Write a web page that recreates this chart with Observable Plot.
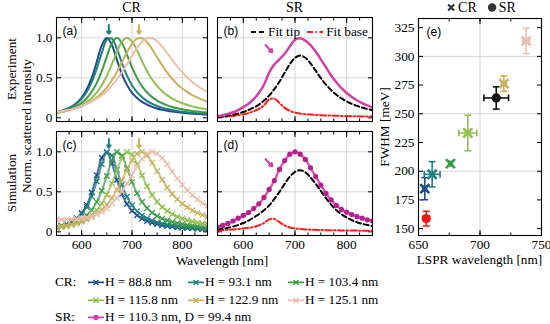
<!DOCTYPE html>
<html><head><meta charset="utf-8">
<script src="https://cdn.jsdelivr.net/npm/d3@7"></script>
<script src="https://cdn.jsdelivr.net/npm/@observablehq/plot@0.6"></script>
<style>
body{margin:0;background:#fff}
#root{position:relative;width:550px;height:324px;font-family:"Liberation Serif","Times New Roman",serif;color:#000;overflow:hidden;background:#fff}
.pl{position:absolute;line-height:0}
.pl svg{overflow:visible;display:block}
.t{position:absolute;white-space:nowrap;font-size:13.3px;line-height:1}
.rot{transform:translate(-50%,-50%) rotate(-90deg)}
.ctr{transform:translate(-50%,-50%)}
.vc{transform:translateY(-50%)}
.lg{position:absolute;white-space:nowrap;font-size:13.2px;line-height:1;transform:translateY(-50%);display:flex;align-items:center}
</style></head><body><div id="root"></div>
<script>
// ---------- data ----------
const wl = [550,560,570,580,590,600,610,620,630,640,650,660,670,680,690,700,710,720,730,740,750,760,770,780,790,800,810,820,830,840,850];

const crNames = ["H = 88.8 nm","H = 93.1 nm","H = 103.4 nm","H = 115.8 nm","H = 122.9 nm","H = 125.1 nm"];
const crColors = ["#1f4b8e","#1f7f7e","#3d9b48","#8fc050","#c8b25e","#ebbfad"];

const expH888  = [0.066,0.083,0.107,0.139,0.185,0.253,0.354,0.502,0.700,0.906,1.000,0.911,0.725,0.547,0.412,0.315,0.248,0.199,0.164,0.137,0.117,0.101,0.088,0.078,0.070,0.063,0.057,0.052,0.048,0.044,0.041];
const expH931  = [0.068,0.085,0.107,0.137,0.178,0.238,0.323,0.446,0.615,0.812,0.975,0.990,0.861,0.685,0.528,0.407,0.320,0.256,0.209,0.174,0.147,0.127,0.110,0.097,0.086,0.077,0.070,0.064,0.058,0.054,0.050];
const expH1034 = [0.062,0.075,0.092,0.115,0.145,0.187,0.244,0.325,0.437,0.587,0.767,0.932,1.000,0.935,0.789,0.630,0.497,0.393,0.316,0.259,0.216,0.182,0.156,0.136,0.119,0.106,0.095,0.085,0.078,0.071,0.065];
const expH1158 = [0.061,0.072,0.087,0.105,0.128,0.157,0.196,0.248,0.317,0.408,0.526,0.671,0.825,0.951,1.000,0.953,0.841,0.708,0.583,0.479,0.396,0.331,0.280,0.240,0.208,0.182,0.161,0.143,0.129,0.116,0.106];
const expH1229 = [0.065,0.076,0.088,0.104,0.122,0.145,0.174,0.209,0.254,0.310,0.381,0.469,0.574,0.694,0.817,0.924,0.989,0.995,0.945,0.858,0.755,0.655,0.564,0.486,0.420,0.366,0.321,0.283,0.252,0.226,0.203];
const expH1251 = [0.071,0.081,0.094,0.108,0.125,0.146,0.171,0.201,0.238,0.282,0.336,0.402,0.479,0.570,0.671,0.776,0.875,0.952,0.995,0.995,0.956,0.889,0.807,0.722,0.641,0.568,0.503,0.446,0.398,0.357,0.321];

const simH888  = [0.058,0.074,0.095,0.125,0.170,0.236,0.337,0.492,0.707,0.926,0.995,0.856,0.647,0.471,0.348,0.264,0.206,0.165,0.135,0.113,0.096,0.083,0.073,0.065,0.058,0.052,0.047,0.043,0.039,0.036,0.034];
const simH931  = [0.060,0.075,0.096,0.124,0.165,0.224,0.311,0.443,0.628,0.845,0.990,0.952,0.777,0.588,0.439,0.332,0.259,0.206,0.168,0.140,0.118,0.102,0.089,0.078,0.069,0.062,0.056,0.051,0.047,0.043,0.040];
const simH1034 = [0.051,0.062,0.076,0.095,0.121,0.155,0.204,0.274,0.374,0.514,0.698,0.890,0.997,0.950,0.796,0.624,0.481,0.374,0.296,0.239,0.197,0.165,0.141,0.122,0.106,0.094,0.084,0.075,0.068,0.062,0.057];
const simH1158 = [0.051,0.061,0.073,0.088,0.108,0.133,0.166,0.211,0.271,0.353,0.463,0.606,0.770,0.921,0.998,0.965,0.849,0.704,0.570,0.461,0.376,0.310,0.260,0.221,0.189,0.165,0.145,0.129,0.115,0.104,0.094];
const simH1229 = [0.057,0.066,0.078,0.091,0.107,0.128,0.153,0.185,0.225,0.276,0.341,0.423,0.525,0.645,0.775,0.895,0.978,0.999,0.954,0.865,0.757,0.650,0.554,0.473,0.406,0.350,0.305,0.268,0.237,0.212,0.190];
const simH1251 = [0.150,0.150,0.150,0.155,0.160,0.170,0.180,0.196,0.218,0.247,0.295,0.353,0.423,0.508,0.604,0.711,0.818,0.912,0.977,1.000,0.978,0.921,0.841,0.753,0.667,0.588,0.518,0.457,0.405,0.361,0.324];

const srColor = "#d23fa6", srDotColor = "#b51f8e";
const expSR   = [0.020,0.032,0.048,0.070,0.097,0.133,0.176,0.234,0.310,0.413,0.566,0.668,0.730,0.800,0.892,0.975,0.995,0.965,0.910,0.830,0.730,0.630,0.530,0.445,0.370,0.310,0.260,0.220,0.185,0.155,0.130];
const expTip  = [0.008,0.016,0.026,0.039,0.054,0.073,0.097,0.127,0.165,0.215,0.278,0.358,0.454,0.563,0.670,0.750,0.780,0.751,0.680,0.589,0.497,0.415,0.346,0.289,0.242,0.205,0.174,0.149,0.128,0.110,0.095];
const expBase = [0.010,0.013,0.017,0.023,0.032,0.045,0.060,0.082,0.112,0.155,0.232,0.238,0.185,0.125,0.088,0.066,0.054,0.046,0.040,0.036,0.033,0.030,0.028,0.026,0.024,0.022,0.020,0.019,0.018,0.017,0.016];
const simSR   = [0.060,0.080,0.105,0.135,0.170,0.205,0.240,0.290,0.350,0.430,0.530,0.640,0.780,0.890,0.970,1.000,0.970,0.905,0.800,0.690,0.585,0.480,0.400,0.330,0.280,0.245,0.215,0.190,0.170,0.150,0.135];
const simTip  = [0.030,0.040,0.050,0.065,0.085,0.110,0.140,0.180,0.220,0.270,0.330,0.410,0.500,0.600,0.690,0.750,0.770,0.745,0.680,0.600,0.510,0.420,0.340,0.270,0.220,0.180,0.145,0.120,0.100,0.085,0.070];
const simBase = [0.020,0.022,0.025,0.030,0.035,0.042,0.050,0.060,0.080,0.110,0.155,0.160,0.120,0.080,0.055,0.042,0.035,0.030,0.027,0.025,0.023,0.021,0.020,0.019,0.018,0.017,0.016,0.015,0.014,0.013,0.012];

// arrows (wavelength, from y, to y)
const crArrowX = [654, 714];
const crArrowColors = ["#1f7f7e", "#c8b25e"];
const crArrowY = [1.16, 1.05];
const srArrow = {x1: 643, y1: 0.91, x2: 656, y2: 0.82};

// panel (e)
const crLspr     = [655.1, 661.1, 676.0, 690.1, 719.4, 737.5];
const crLsprErr  = [1.5, 6.4, 1.5, 7.3, 2.0, 2.7];
const crFwhm     = [184.8, 197.3, 206.6, 233.3, 276.3, 313.4];
const crFwhmErr  = [9.6, 11.0, 1.8, 15.5, 6.8, 11.0];
const srLspr     = [713.2, 656.3];
const srLsprErr  = [10.0, 2.5];
const srFwhm     = [263.8, 158.7];
const srFwhmErr  = [9.7, 6.4];
const srPtColors = ["#111111", "#f01818"];

// ticks
const specXMajor = [600, 700, 800];
const specXMinor = [550,575,600,625,650,675,700,725,750,775,800,825,850];
const specYMajor = [0, 0.5, 1.0];
const specYGrid = [0.5, 1.0];
const eXMajor = [650, 700, 750];
const eXMinor = [650, 675, 700, 725, 750];
const eYMajor = [150, 175, 200, 225, 250, 275, 300, 325];
const eYGrid = [200, 250, 300];

// ---------- build ----------
const root = document.getElementById("root");
const SERIF = "'Liberation Serif', 'Times New Roman', serif", SANS = "'Liberation Sans', Arial, sans-serif";
const specXDomain = [550, 850], specYDomain = [-0.046, 1.254];

function place(el, left, top) {
  const d = document.createElement("div");
  d.className = "pl"; d.style.left = left + "px"; d.style.top = top + "px";
  d.appendChild(el); root.appendChild(d);
}
function text(str, x, y, cls, extra) {
  const d = document.createElement("div");
  d.className = "t " + (cls || ""); d.style.left = x + "px"; d.style.top = y + "px";
  if (extra) Object.assign(d.style, extra);
  d.innerHTML = str; root.appendChild(d); return d;
}
const toRows = (ys) => wl.map((w, i) => ({w, v: ys[i]}));

function frameMarks({xMajor, xMinor, yMajor, yMinor, xGrid, yGrid, xLab, yLab, yFmt}) {
  const m = [
    Plot.gridX(xGrid, {stroke: "#d6d6d6", strokeOpacity: 1, strokeWidth: 1}),
    Plot.gridY(yGrid, {stroke: "#d6d6d6", strokeOpacity: 1, strokeWidth: 1})
  ];
  const blank = () => "";
  for (const a of ["bottom", "top"]) {
    m.push(Plot.axisX(xMinor, {anchor: a, tickSize: -2.5, tickFormat: blank, label: null, strokeWidth: 1}));
    m.push(Plot.axisX(xMajor, {anchor: a, tickSize: -5, tickFormat: blank, label: null, strokeWidth: 1}));
  }
  for (const a of ["left", "right"]) {
    if (yMinor) m.push(Plot.axisY(yMinor, {anchor: a, tickSize: -2.5, tickFormat: blank, label: null, strokeWidth: 1}));
    m.push(Plot.axisY(yMajor, {anchor: a, tickSize: -5, tickFormat: blank, label: null, strokeWidth: 1}));
  }
  if (xLab) m.push(Plot.axisX(xMajor, {anchor: "bottom", tickSize: 0, tickPadding: 4, label: null, fontSize: 13.3, fontFamily: SERIF}));
  if (yLab) m.push(Plot.axisY(yMajor, {anchor: "left", tickSize: 0, tickPadding: 4, label: null, fontSize: 13.3, fontFamily: SERIF, tickFormat: yFmt}));
  return m;
}

function specPanel({width, height, marks, label, xLab, yLab}) {
  return Plot.plot({
    width, height, margin: 0,
    style: {overflow: "visible", fontFamily: SERIF, fontSize: "13.3px", background: "transparent"},
    x: {domain: specXDomain, label: null},
    y: {domain: specYDomain, label: null},
    marks: [
      ...frameMarks({xMajor: specXMajor, xMinor: specXMinor, yMajor: specYMajor, xGrid: specXMajor, yGrid: specYGrid,
        xLab, yLab, yFmt: d => d === 0 ? "0" : d.toFixed(1)}),
      ...marks,
      Plot.frame({stroke: "#000", strokeWidth: 1.1}),
      Plot.text([label], {frameAnchor: "top-left", dx: 6, dy: 9, fontFamily: SANS, fontSize: 12})
    ]
  });
}

const expSeries = [expH888, expH931, expH1034, expH1158, expH1229, expH1251];
const simSeries = [simH888, simH931, simH1034, simH1158, simH1229, simH1251];

function crArrows() {
  return crArrowX.map((x, i) => Plot.arrow([{x, y1: crArrowY[0], y2: crArrowY[1]}],
    {x1: "x", x2: "x", y1: "y1", y2: "y2", stroke: crArrowColors[i], strokeWidth: 2, headLength: 5, headAngle: 70}));
}

// (a)
const aMarks = [];
expSeries.forEach((s, i) => aMarks.push(Plot.line(toRows(s), {x: "w", y: "v", stroke: crColors[i], strokeWidth: 2, curve: "catmull-rom", clip: true})));
aMarks.push(...crArrows());
place(specPanel({width: 151, height: 104, marks: aMarks, label: "(a)", xLab: false, yLab: true}), 56, 17);

// (c)
const cMarks = [];
simSeries.forEach((s, i) => {
  cMarks.push(Plot.line(toRows(s), {x: "w", y: "v", stroke: crColors[i], strokeWidth: 2, strokeOpacity: 0.75, curve: "catmull-rom", clip: true}));
  cMarks.push(Plot.dot(toRows(s), {x: "w", y: "v", stroke: crColors[i], symbol: "times", r: 2.6, strokeWidth: 1.3, clip: true}));
});
cMarks.push(...crArrows());
place(specPanel({width: 151, height: 104, marks: cMarks, label: "(c)", xLab: true, yLab: true}), 56, 131);

function srArrowMark() {
  return Plot.arrow([srArrow], {x1: "x1", y1: "y1", x2: "x2", y2: "y2", stroke: srColor, strokeWidth: 2, headLength: 5, headAngle: 70});
}
// (b)
const bMarks = [
  Plot.line(toRows(expBase), {x: "w", y: "v", stroke: "#ff1a1a", strokeWidth: 2, strokeDasharray: "6,2.5,1.5,2.5", curve: "catmull-rom", clip: true}),
  Plot.line(toRows(expTip), {x: "w", y: "v", stroke: "#000", strokeWidth: 2, strokeDasharray: "5,3", curve: "catmull-rom", clip: true}),
  Plot.line(toRows(expSR), {x: "w", y: "v", stroke: srColor, strokeWidth: 2.5, curve: "catmull-rom", clip: true}),
  srArrowMark()
];
place(specPanel({width: 155, height: 104, marks: bMarks, label: "(b)", xLab: false, yLab: false}), 217, 17);

// (d)
const dMarks = [
  Plot.line(toRows(simBase), {x: "w", y: "v", stroke: "#ff1a1a", strokeWidth: 2, strokeDasharray: "6,2.5,1.5,2.5", curve: "catmull-rom", clip: true}),
  Plot.line(toRows(simTip), {x: "w", y: "v", stroke: "#000", strokeWidth: 2, strokeDasharray: "5,3", curve: "catmull-rom", clip: true}),
  Plot.line(toRows(simSR), {x: "w", y: "v", stroke: srColor, strokeWidth: 2.5, strokeOpacity: 0.85, curve: "catmull-rom", clip: true}),
  Plot.dot(toRows(simSR), {x: "w", y: "v", fill: srDotColor, r: 2.6, clip: true}),
  srArrowMark()
];
place(specPanel({width: 155, height: 104, marks: dMarks, label: "(d)", xLab: true, yLab: false}), 217, 131);

// (e)
const hcap = {draw(ctx, size) { const r = Math.sqrt(size / Math.PI); ctx.moveTo(-r, 0); ctx.lineTo(r, 0); }};
const vcap = {draw(ctx, size) { const r = Math.sqrt(size / Math.PI); ctx.moveTo(0, -r); ctx.lineTo(0, r); }};
const crPts = crLspr.map((x, i) => ({x, xe: crLsprErr[i], y: crFwhm[i], ye: crFwhmErr[i], c: crColors[i]}));
const srPts = srLspr.map((x, i) => ({x, xe: srLsprErr[i], y: srFwhm[i], ye: srFwhmErr[i], c: srPtColors[i]}));
function errMarks(pts) {
  const o = {stroke: "c", strokeWidth: 1.6};
  return [
    Plot.link(pts, {x1: d => d.x - d.xe, x2: d => d.x + d.xe, y1: "y", y2: "y", ...o}),
    Plot.link(pts, {x1: "x", x2: "x", y1: d => d.y - d.ye, y2: d => d.y + d.ye, ...o}),
    Plot.dot(pts, {x: "x", y: d => d.y - d.ye, symbol: hcap, r: 3.4, ...o}),
    Plot.dot(pts, {x: "x", y: d => d.y + d.ye, symbol: hcap, r: 3.4, ...o}),
    Plot.dot(pts, {x: d => d.x - d.xe, y: "y", symbol: vcap, r: 3.4, ...o}),
    Plot.dot(pts, {x: d => d.x + d.xe, y: "y", symbol: vcap, r: 3.4, ...o})
  ];
}
const ePlot = Plot.plot({
  width: 123, height: 217, margin: 0,
  style: {overflow: "visible", fontFamily: SERIF, fontSize: "13.3px", background: "transparent"},
  x: {domain: [650, 750], label: null},
  y: {domain: [144, 333], label: null},
  color: {type: "identity"},
  marks: [
    ...frameMarks({xMajor: eXMajor, xMinor: eXMinor, yMajor: eYMajor, xGrid: [700], yGrid: eYGrid, xLab: true, yLab: true, yFmt: d => String(d)}),
    ...errMarks(crPts),
    ...errMarks(srPts),
    Plot.dot(crPts, {x: "x", y: "y", symbol: "times", r: 4.2, stroke: "c", strokeWidth: 2.6}),
    Plot.dot(srPts, {x: "x", y: "y", symbol: "circle", r: 4.6, fill: "c"}),
    Plot.frame({stroke: "#000", strokeWidth: 1.1}),
    Plot.text(["(e)"], {frameAnchor: "top-left", dx: 8, dy: 9, fontFamily: SANS, fontSize: 12})
  ]
});
place(ePlot, 418, 18);

// ---------- texts ----------
text("CR", 131.5, 8, "ctr", {fontSize: "14px"});
text("SR", 294.5, 8, "ctr", {fontSize: "14px"});
text("Experiment", 12, 69, "rot");
text("Simulation", 12, 183, "rot");
text("Norm. scattered intensity", 27, 126, "rot");
text("Wavelength [nm]", 222, 261, "ctr");
text("FWHM [meV]", 385, 126.5, "rot");
text("LSPR wavelength [nm]", 479.5, 260, "ctr");

// legend in (b)
const lgB = document.createElement("div");
lgB.className = "t";
lgB.style.left = "250px"; lgB.style.top = "25px";
lgB.innerHTML = `<span style="display:inline-flex;align-items:center;gap:2px">
<svg width="16" height="8"><line x1="1" y1="4" x2="15" y2="4" stroke="#000" stroke-width="2" stroke-dasharray="5,3"/></svg>Fit tip
<svg width="18" height="8" style="margin-left:4px"><line x1="1" y1="4" x2="17" y2="4" stroke="#ff1a1a" stroke-width="2" stroke-dasharray="6,2.5,1.5,2.5"/></svg>Fit base</span>`;
root.appendChild(lgB);

// legend above (e)
const lgE = document.createElement("div");
lgE.className = "t ctr";
lgE.style.left = "481px"; lgE.style.top = "8px";
lgE.style.fontSize = "14px";
lgE.innerHTML = `<span style="display:inline-flex;align-items:center;gap:2px">
<svg width="10" height="10"><path d="M2,2L8,8M8,2L2,8" stroke="#333" stroke-width="2.2"/></svg>CR
<svg width="10" height="10" style="margin-left:8px"><circle cx="5" cy="5" r="4.2" fill="#333"/></svg>SR</span>`;
root.appendChild(lgE);

// bottom legend
function legendItem(x, y, color, label, isDot) {
  const d = document.createElement("div");
  d.className = "lg"; d.style.left = x + "px"; d.style.top = y + "px";
  const mk = isDot
    ? `<circle cx="8" cy="5" r="2.6" fill="${color}"/>`
    : `<path d="M5.5,2.5L10.5,7.5M10.5,2.5L5.5,7.5" stroke="${color}" stroke-width="1.4"/>`;
  d.innerHTML = `<svg width="16" height="10" style="margin-right:1px"><line x1="0" y1="5" x2="16" y2="5" stroke="${color}" stroke-width="1.6"/>${mk}</svg>${label}`;
  root.appendChild(d);
}
text("CR:", 55, 282, "vc");
text("SR:", 55, 317, "vc");
const colX = [88, 188, 288];
crNames.forEach((n, i) => legendItem(colX[i % 3], i < 3 ? 282 : 300, crColors[i], n, false));
legendItem(88, 317, srColor, "H = 110.3 nm, D = 99.4 nm", true);
</script></body></html>
